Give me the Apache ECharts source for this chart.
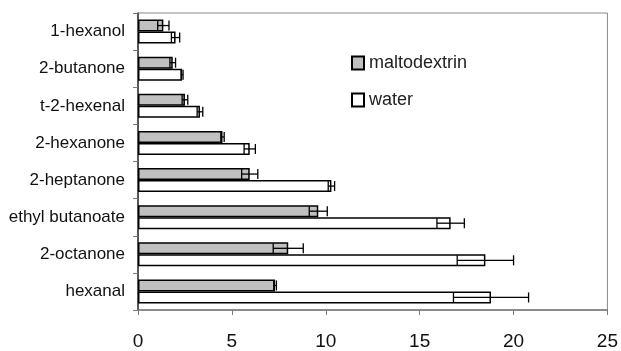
<!DOCTYPE html>
<html>
<head>
<meta charset="utf-8">
<script src="https://cdn.jsdelivr.net/npm/echarts@6/dist/echarts.min.js"></script>
<style>
  html, body { margin: 0; padding: 0; background: #fff; }
  #chart { width: 621px; height: 351px; }
</style>
</head>
<body>
<div id="chart"></div>
<script>
// compounds, top to bottom
const categories = ['1-hexanol', '2-butanone', 't-2-hexenal', '2-hexanone', '2-heptanone', 'ethyl butanoate', '2-octanone', 'hexanal']
const maltodextrin = [1.35, 1.85, 2.5, 4.5, 5.95, 9.6, 8.0, 7.3]
const maltodextrinErr = [0.3, 0.15, 0.15, 0.09, 0.43, 0.48, 0.8, 0.07]
const water = [2.0, 2.35, 3.3, 5.95, 10.3, 16.65, 18.5, 18.8]
const waterErr = [0.22, 0.05, 0.15, 0.3, 0.17, 0.73, 1.5, 2.0]
const xTicks = [0, 5, 10, 15, 20, 25]

const FONT = 'Liberation Sans, Arial, sans-serif'
const BAR_W = 12

// error bar: horizontal line with caps at mean-err and mean+err
function errorBar (offset) {
  return function (params, api) {
    const mean = api.value(0)
    const err = api.value(1)
    const idx = api.value(2)
    const lo = api.coord([mean - err, idx])
    const hi = api.coord([mean + err, idx])
    const y = lo[1] + offset
    const h = 5
    const style = { stroke: '#000', lineWidth: 1.3 }
    return {
      type: 'group',
      children: [
        { type: 'line', shape: { x1: lo[0], y1: y, x2: hi[0], y2: y }, style },
        { type: 'line', shape: { x1: lo[0], y1: y - h, x2: lo[0], y2: y + h }, style },
        { type: 'line', shape: { x1: hi[0], y1: y - h, x2: hi[0], y2: y + h }, style }
      ]
    }
  }
}

const chart = echarts.init(document.getElementById('chart'))
chart.setOption({
  animation: false,
  textStyle: { fontFamily: FONT },
  grid: { left: 138, right: 11, top: 13, bottom: 40, show: true, borderColor: '#8a8a8a', borderWidth: 1 },
  legend: {
    orient: 'vertical',
    left: 346,
    top: 49,
    icon: 'rect',
    itemWidth: 12,
    itemHeight: 13,
    itemGap: 19,
    textStyle: { fontSize: 18, color: '#222', fontFamily: FONT },
    data: ['maltodextrin', 'water']
  },
  xAxis: {
    type: 'value',
    min: xTicks[0],
    max: xTicks[xTicks.length - 1],
    interval: 5,
    axisLine: { show: true, lineStyle: { color: '#7a7a7a', width: 1.5 } },
    axisTick: { show: true, length: 5, lineStyle: { color: '#7a7a7a' } },
    axisLabel: { fontSize: 19, color: '#111', margin: 22, fontFamily: FONT },
    splitLine: { show: false }
  },
  yAxis: {
    type: 'category',
    inverse: true,
    data: categories,
    axisLine: { show: true, lineStyle: { color: '#333', width: 1.5 } },
    axisTick: { show: true, length: 5, lineStyle: { color: '#7a7a7a' } },
    axisLabel: { fontSize: 17, color: '#111', margin: 13, fontFamily: FONT }
  },
  series: [
    {
      name: 'maltodextrin',
      type: 'bar',
      data: maltodextrin,
      barWidth: BAR_W,
      barGap: '0%',
      itemStyle: { color: '#c0c0c0', borderColor: '#000', borderWidth: 1.5 }
    },
    {
      name: 'water',
      type: 'bar',
      data: water,
      barWidth: BAR_W,
      barGap: '0%',
      itemStyle: { color: '#fff', borderColor: '#000', borderWidth: 1.5 }
    },
    {
      type: 'custom',
      renderItem: errorBar(-BAR_W / 2),
      encode: { x: 0, y: 2 },
      data: maltodextrin.map((v, i) => [v, maltodextrinErr[i], i]),
      z: 5
    },
    {
      type: 'custom',
      renderItem: errorBar(BAR_W / 2),
      encode: { x: 0, y: 2 },
      data: water.map((v, i) => [v, waterErr[i], i]),
      z: 5
    }
  ]
})
</script>
</body>
</html>
